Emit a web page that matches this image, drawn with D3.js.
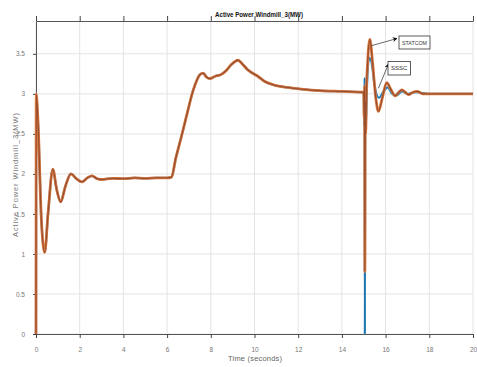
<!DOCTYPE html>
<html>
<head>
<meta charset="utf-8">
<script src="https://cdn.jsdelivr.net/npm/d3@7"></script>
<style>
  html, body { margin: 0; padding: 0; background: #fff; }
  svg { display: block; font-family: "Liberation Sans", Arial, sans-serif; }
</style>
</head>
<body>
<svg id="chart" width="477" height="367"></svg>
<script>
// Shared response before the fault (both compensators behave alike)
const preTime = [0, 0.01, 0.1, 0.25, 0.4, 0.55, 0.77, 0.95, 1.13, 1.35, 1.6, 1.85, 2.1, 2.35, 2.56, 2.8, 3.0,
  3.5, 4.0, 4.5, 5.0, 5.5, 6.0, 6.2, 6.4, 6.62, 6.85, 7.2, 7.5, 7.65, 7.8, 7.96, 8.2, 8.46, 8.7, 8.92, 9.25,
  9.45, 9.69, 10.15, 10.5, 10.9, 11.5, 12.14, 13.0, 14.0, 14.98];
const preMW = [0, 3.0, 2.6, 1.4, 1.02, 1.5, 2.06, 1.8, 1.65, 1.85, 2.0, 1.94, 1.9, 1.95, 1.975, 1.94, 1.93,
  1.945, 1.94, 1.95, 1.945, 1.95, 1.95, 1.96, 2.2, 2.43, 2.68, 3.05, 3.24, 3.26, 3.21, 3.19, 3.22, 3.24, 3.29, 3.36, 3.42,
  3.37, 3.3, 3.22, 3.15, 3.11, 3.08, 3.06, 3.04, 3.03, 3.02];

// Post-fault response, SSSC
const ssscTime = [15.0, 15.02, 15.04, 15.05, 15.07, 15.1, 15.15, 15.25, 15.35, 15.5, 15.7, 15.9, 16.1, 16.3,
  16.5, 16.75, 17.0, 17.4, 18.0, 19.0, 20.0];
const ssscMW = [3.0, 2.6, 3.2, 0.0, 3.0, 2.6, 3.1, 3.45, 3.4, 3.1, 2.95, 3.03, 3.08, 3.0,
  2.98, 3.03, 3.0, 3.02, 3.0, 3.0, 3.0];

// Post-fault response, STATCOM
const statcomTime = [15.0, 15.02, 15.04, 15.05, 15.07, 15.09, 15.12, 15.18, 15.28, 15.4, 15.55, 15.67, 15.85,
  16.05, 16.25, 16.43, 16.6, 16.74, 16.9, 17.05, 17.25, 17.45, 17.7, 18.0, 19.0, 20.0];
const statcomMW = [3.0, 2.7, 3.1, 0.78, 2.9, 2.5, 3.0, 3.4, 3.68, 3.4, 2.95, 2.78, 2.95,
  3.14, 3.05, 2.975, 3.02, 3.05, 3.02, 2.99, 3.02, 3.03, 3.0, 3.0, 3.0, 3.0];

const xTicks = [0, 2, 4, 6, 8, 10, 12, 14, 16, 18, 20];
const yTicks = [0, 0.5, 1, 1.5, 2, 2.5, 3, 3.5];
const seriesNames = ["SSSC", "STATCOM"];

const svg = d3.select("#chart");
const plotLeft = 36, plotRight = 473, plotTop = 21, plotBottom = 334;

const x = d3.scaleLinear().domain([0, 20]).range([plotLeft, plotRight]);
const y = d3.scaleLinear().domain([0, 3.91]).range([plotBottom, plotTop]);

// grid
svg.append("g").selectAll("line").data(xTicks).join("line")
  .attr("x1", d => x(d)).attr("x2", d => x(d)).attr("y1", plotTop).attr("y2", plotBottom)
  .attr("stroke", "#e4e4e4").attr("stroke-width", 1);
svg.append("g").selectAll("line").data(yTicks).join("line")
  .attr("x1", plotLeft).attr("x2", plotRight).attr("y1", d => y(d)).attr("y2", d => y(d))
  .attr("stroke", "#e4e4e4").attr("stroke-width", 1);

// axes
const axisStyle = g => {
  g.selectAll(".domain").attr("stroke", "#555");
  g.selectAll(".tick line").attr("stroke", "#444");
  g.selectAll(".tick text").attr("fill", "#777").attr("font-size", 6.5);
};
svg.append("g").attr("transform", `translate(0,${plotBottom})`)
  .call(d3.axisBottom(x).tickValues(xTicks).tickSize(4).tickPadding(9).tickSizeOuter(0))
  .call(axisStyle);
svg.append("g").attr("transform", `translate(0,${plotTop})`)
  .call(d3.axisTop(x).tickValues(xTicks).tickSize(5).tickFormat("").tickSizeOuter(0))
  .call(axisStyle);
svg.append("g").attr("transform", `translate(${plotLeft},0)`)
  .call(d3.axisLeft(y).tickValues(yTicks).tickSize(3).tickPadding(8).tickSizeOuter(0)
    .tickFormat(d => d))
  .call(axisStyle);

// series
const line = d3.line().x(d => x(d[0])).y(d => y(d[1])).curve(d3.curveMonotoneX);
const zip = (t, v) => t.map((d, i) => [d, v[i]]);
const ssscData = zip(preTime, preMW).concat(zip(ssscTime, ssscMW));
const statcomData = zip(preTime, preMW).concat(zip(statcomTime, statcomMW));

svg.append("path").datum(ssscData).attr("d", line)
  .attr("fill", "none").attr("stroke", "#3596cf").attr("stroke-width", 2.2);
svg.append("path").datum(ssscData).attr("d", line)
  .attr("fill", "none").attr("stroke", "#1d6ea6").attr("stroke-width", 0.9);
// STATCOM trace: orange halo with a darker brown core
svg.append("path").datum(statcomData).attr("d", line)
  .attr("fill", "none").attr("stroke", "#dc7a43").attr("stroke-width", 2.8)
  .attr("stroke-linejoin", "round");
svg.append("path").datum(statcomData).attr("d", line)
  .attr("fill", "none").attr("stroke", "#9a4f2c").attr("stroke-width", 1.3)
  .attr("stroke-linejoin", "round");

// annotations
const defs = svg.append("defs");
defs.append("marker").attr("id", "arrow").attr("viewBox", "0 0 10 10")
  .attr("refX", 9).attr("refY", 5).attr("markerWidth", 6).attr("markerHeight", 6)
  .attr("orient", "auto")
  .append("path").attr("d", "M0,0 L10,5 L0,10 L3,5 Z").attr("fill", "#111");

const notes = [
  { name: seriesNames[1], t: 15.33, v: 3.6, bx: 399, by: 36, bw: 31, bh: 13, ax: 397, ay: 38.5 },
  { name: seriesNames[0], t: 15.67, v: 3.07, bx: 388, by: 61.5, bw: 22.5, bh: 13.5, ax: 388.5, ay: 64 }
];
notes.forEach(n => {
  svg.append("line").attr("x1", x(n.t)).attr("y1", y(n.v)).attr("x2", n.ax).attr("y2", n.ay)
    .attr("stroke", "#444").attr("stroke-width", 0.8).attr("marker-end", "url(#arrow)");
  svg.append("rect").attr("x", n.bx).attr("y", n.by).attr("width", n.bw).attr("height", n.bh)
    .attr("fill", "#fff").attr("stroke", "#333").attr("stroke-width", 0.8);
  svg.append("text").attr("x", n.bx + n.bw / 2).attr("y", n.by + n.bh / 2 + 2.2)
    .attr("text-anchor", "middle").attr("font-size", 6).attr("fill", "#333")
    .attr("textLength", n.bw - 6).attr("lengthAdjust", "spacingAndGlyphs").text(n.name);
});

// titles
svg.append("text").attr("x", 259).attr("y", 16.5).attr("text-anchor", "middle")
  .attr("font-size", 8).attr("font-weight", "bold").attr("fill", "#111")
  .attr("textLength", 88).attr("lengthAdjust", "spacingAndGlyphs")
  .text("Active Power Windmill_3(MW)");
svg.append("text").attr("x", 255).attr("y", 361).attr("text-anchor", "middle")
  .attr("font-size", 7.5).attr("fill", "#666")
  .attr("textLength", 54).attr("lengthAdjust", "spacing").text("Time (seconds)");
svg.append("text").attr("transform", "translate(18,175) rotate(-90)").attr("text-anchor", "middle")
  .attr("font-size", 7.5).attr("fill", "#777")
  .attr("textLength", 124).attr("lengthAdjust", "spacing")
  .text("Active Power Windmill_3(MW)");
</script>
</body>
</html>
